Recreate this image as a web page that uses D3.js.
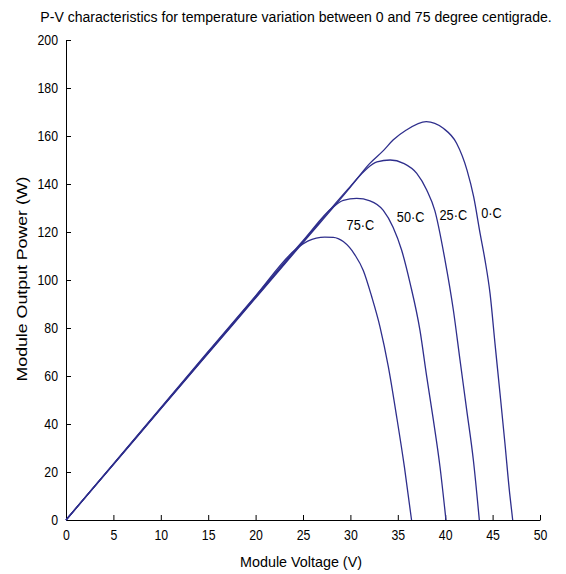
<!DOCTYPE html>
<html><head><meta charset="utf-8">
<script src="https://cdn.jsdelivr.net/npm/d3@7"></script>
<style>
body{margin:0;background:#fff;}
text{font-family:"Liberation Sans",Arial,sans-serif;}
</style></head>
<body><svg id="c" width="566" height="574"></svg>
<script>
const title = "P-V characteristics for temperature variation between 0 and 75 degree centigrade.";
const xLabel = "Module Voltage (V)";
const yLabel = "Module Output Power (W)";
const xTicks = [0,5,10,15,20,25,30,35,40,45,50];
const yTicks = [0,20,40,60,80,100,120,140,160,180,200];
const seriesNames = ["0·C","25·C","50·C","75·C"];

const v0  = [0,5,10,15,20,25,30,32,33.5,34.5,35.9,38.0,39.8,41.2,42.3,43.0,43.7,44.2,44.73,45.25,45.78,46.3,46.8,47.12];
const p0  = [0,23.1,46.3,69.4,92.5,115.6,138.7,148.4,154,158.3,162.5,166,163.2,157,145.8,134.7,119,108.3,94.4,73.6,52.8,32,11.1,0];
const v25 = [0,5,10,15,20,25,30,31.7,32.8,34.2,35.6,37.0,38.05,38.9,39.98,40.86,41.56,42.27,42.97,43.6];
const p25 = [0,23.2,46.4,69.6,92.8,116,139,146.3,149.2,150,148.6,144.4,137.5,129,108.3,87.5,66.7,45.8,25,0];
const v50 = [0,5,10,15,20,25,28.2,29.25,30.66,32.07,33.47,34.5,35.4,36.3,37.34,38.05,38.75,39.45,40.08];
const p50 = [0,23.3,46.6,69.9,93.2,116.4,130.5,133.2,134,133,129,122,112.5,98.6,79,59.7,41.7,22.2,0];
const v75 = [0,5,10,15,20,24.3,25.5,27.3,28.2,29.25,30.49,31.36,32.25,33.12,34.0,34.88,35.7,36.45];
const p75 = [0,23.4,46.8,70.2,93.4,113,116.2,117.9,117.8,116,110.4,104,93,80.5,63.9,43,22,0];
// label anchors (data coords)
const labelV = [43.8, 39.4, 34.9, 29.6];
const labelP = [126, 125, 124, 121];

const volts = [v0, v25, v50, v75];
const powers = [p0, p25, p50, p75];

const svg = d3.select("#c");
const x = d3.scaleLinear().domain([0,50]).range([66,540]);
const y = d3.scaleLinear().domain([0,200]).range([520,40]);

function squeeze(sel, f){
  sel.each(function(){
    const w = this.getComputedTextLength();
    d3.select(this).attr("textLength", w*f).attr("lengthAdjust","spacingAndGlyphs");
  });
}

const tt = svg.append("text").attr("text-anchor","middle")
  .attr("font-size",15).text(title);
const tw = tt.node().getComputedTextLength();
tt.attr("transform",`translate(296,22) scale(${512/tw},1)`);

const gx = svg.append("g").attr("transform","translate(0,520)")
  .call(d3.axisBottom(x).tickValues(xTicks).tickSizeInner(-5).tickSizeOuter(0).tickPadding(7));
const gy = svg.append("g").attr("transform","translate(66,0)")
  .call(d3.axisLeft(y).tickValues(yTicks).tickSizeInner(-5).tickSizeOuter(0).tickPadding(8));
[gx,gy].forEach(g=>{
  g.attr("font-family",null).attr("font-size",null);
  g.selectAll("text").attr("font-size",15).attr("fill","#000");
  g.selectAll("line,path").attr("stroke","#000");
  squeeze(g.selectAll("text"), 0.82);
});
gx.selectAll("text").attr("dy","0.85em");

svg.append("text").attr("x",301).attr("y",567).attr("text-anchor","middle")
  .attr("font-size",15).attr("textLength",122).attr("lengthAdjust","spacingAndGlyphs").text(xLabel);
svg.append("text").attr("transform","translate(27,279) rotate(-90)").attr("text-anchor","middle")
  .attr("font-size",15).attr("textLength",205).attr("lengthAdjust","spacingAndGlyphs").text(yLabel);

const line = d3.line().x(d=>x(d[0])).y(d=>y(d[1])).curve(d3.curveMonotoneX);
volts.forEach((vs,i)=>{
  const pts = vs.map((v,j)=>[v,powers[i][j]]);
  svg.append("path").attr("d",line(pts)).attr("fill","none")
    .attr("stroke","#2e2e8c").attr("stroke-width",1.3);
  const t = svg.append("text").attr("x",x(labelV[i])).attr("y",y(labelP[i]))
    .attr("font-size",15).text(seriesNames[i]);
  squeeze(t, 0.85);
});
</script></body></html>
